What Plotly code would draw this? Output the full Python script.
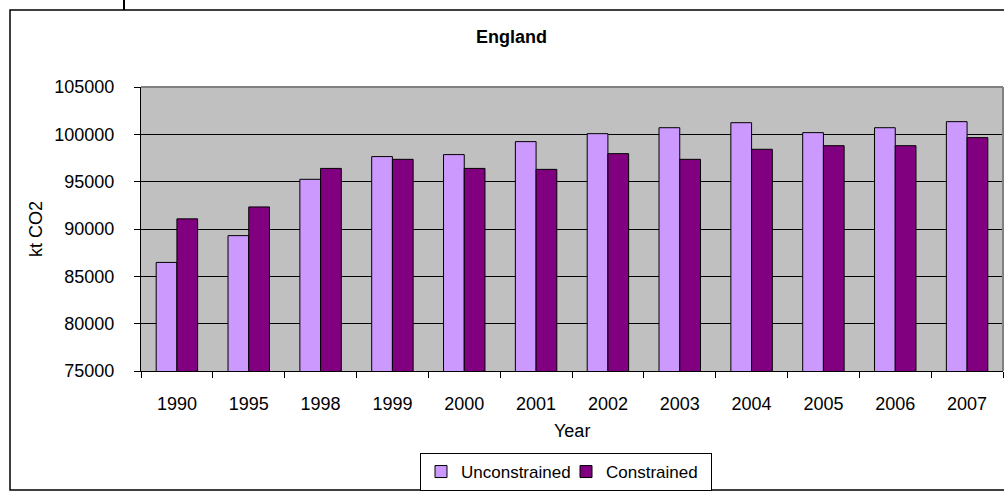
import plotly.graph_objects as go

years = ["1990", "1995", "1998", "1999", "2000", "2001", "2002", "2003", "2004", "2005", "2006", "2007"]
unconstrained = [86470, 89300, 95250, 97650, 97860, 99230, 100070, 100700, 101230, 100180, 100700, 101340]
constrained = [91070, 92330, 96400, 97360, 96400, 96300, 97960, 97360, 98420, 98800, 98800, 99650]

W, H = 1004, 492
L, R, T, B = 141, 1, 87, 121
pw, ph = W - L - R, H - T - B

def px(x):
    return (x - L) / pw

def py(y):
    return (H - B - y) / ph

FONT = "Liberation Sans, Arial, sans-serif"

fig = go.Figure()
fig.add_trace(go.Bar(x=years, y=unconstrained, name="Unconstrained",
                     marker=dict(color="#CC99FF", line=dict(color="black", width=1))))
fig.add_trace(go.Bar(x=years, y=constrained, name="Constrained",
                     marker=dict(color="#800080", line=dict(color="black", width=1))))

fig.update_layout(
    width=W, height=H,
    margin=dict(l=L, r=R, t=T, b=B, pad=0),
    paper_bgcolor="white", plot_bgcolor="#C0C0C0",
    barmode="group", bargap=0.423, bargroupgap=0,
    font=dict(family=FONT, size=18, color="black"),
    showlegend=True,
    legend=dict(orientation="h", x=px(566), xanchor="center", y=py(472), yanchor="middle",
                bgcolor="white", bordercolor="black", borderwidth=1,
                font=dict(size=17), itemwidth=30, tracegroupgap=0,
                entrywidth=100, entrywidthmode="pixels"),
    xaxis=dict(type="category", showgrid=False, ticks="outside", tickson="boundaries",
               ticklen=6, tickcolor="black", showline=True, linecolor="black", linewidth=1,
               tickfont=dict(size=18), ticklabelstandoff=16),
    yaxis=dict(range=[75000, 105000], dtick=5000, tickformat="d", showgrid=True,
               gridcolor="black", gridwidth=1, ticks="outside", ticklen=6, tickcolor="black",
               showline=True, linecolor="black", linewidth=1, zeroline=False,
               tickfont=dict(size=18), ticklabelstandoff=16),
    annotations=[
        dict(text="<b>England</b>", x=px(511), y=py(37), xref="paper", yref="paper",
             xanchor="center", yanchor="middle", showarrow=False, font=dict(size=18)),
        dict(text="Year", x=px(572), y=py(431), xref="paper", yref="paper",
             xanchor="center", yanchor="middle", showarrow=False, font=dict(size=18)),
        dict(text="kt CO2", x=px(36), y=py(229), xref="paper", yref="paper",
             xanchor="center", yanchor="middle", showarrow=False, textangle=-90,
             font=dict(size=18)),
    ],
    shapes=[
        dict(type="rect", xref="paper", yref="paper", x0=px(10), x1=px(1010), y0=py(490), y1=py(10),
             line=dict(color="black", width=1.5), fillcolor="rgba(0,0,0,0)", layer="below"),
        dict(type="line", xref="paper", yref="paper", x0=px(124), x1=px(124), y0=py(0), y1=py(10),
             line=dict(color="black", width=2)),
        dict(type="line", xref="paper", yref="paper", x0=0, x1=1, y0=1, y1=1,
             line=dict(color="#808080", width=2)),
        dict(type="line", xref="paper", yref="paper", x0=1, x1=1, y0=0, y1=1,
             line=dict(color="#808080", width=2)),
    ],
)

fig.write_html("out.html")
